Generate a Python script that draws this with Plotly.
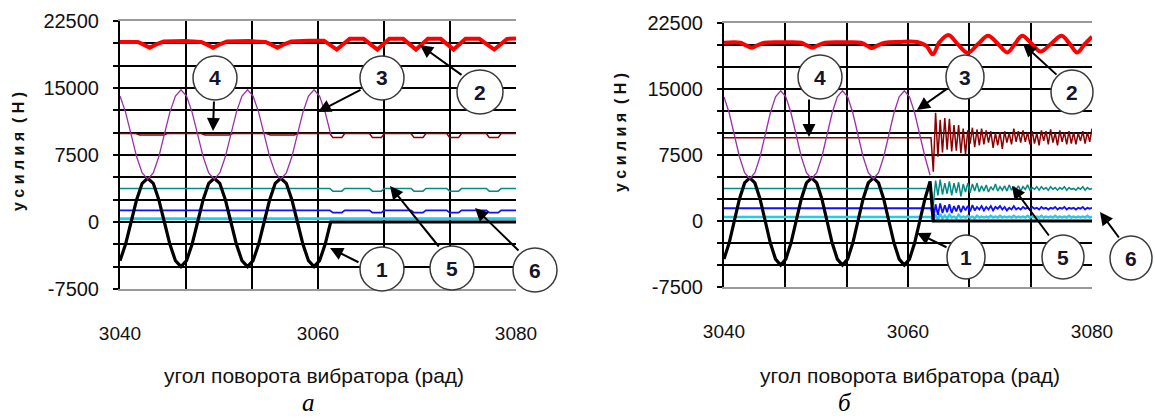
import plotly.graph_objects as go

W, H = 1155, 418

# ---------------- data ----------------
# sampled angle positions (rad) for the periodic part
osc_x = [3040.00, 3040.56, 3041.12, 3041.68, 3042.24, 3042.80, 3043.36, 3043.92, 3044.48, 3045.04,
         3045.60, 3046.16, 3046.72, 3047.28, 3047.84, 3048.40, 3048.96, 3049.52, 3050.08, 3050.64,
         3051.20, 3051.76, 3052.32, 3052.88, 3053.44, 3054.00, 3054.56, 3055.12, 3055.68, 3056.24,
         3056.80, 3057.36, 3057.92, 3058.48, 3059.04, 3059.60, 3060.16, 3060.72, 3061.28, 3061.84,
         3062.40]

# series 1 (black) - chart a
f1_a_x = osc_x[:39] + [3080.0]
f1_a = [-4330, -2500, 0, 2500, 4330, 4900, 4330, 2500, 0, -2500, -4330, -5000,
        -4330, -2500, 0, 2500, 4330, 4900, 4330, 2500, 0, -2500, -4330, -5000,
        -4330, -2500, 0, 2500, 4330, 4900, 4330, 2500, 0, -2500, -4330, -5000,
        -4330, -2500, 0, 0]
# series 1 (black) - chart b
f1_b_x = osc_x + [3062.75, 3080.0]
f1_b = [-4330, -2500, 0, 2500, 4330, 4900, 4330, 2500, 0, -2500, -4330, -5000,
        -4330, -2500, 0, 2500, 4330, 4900, 4330, 2500, 0, -2500, -4330, -5000,
        -4330, -2500, 0, 2500, 4330, 4900, 4330, 2500, 0, -2500, -4330, -5000,
        -4330, -2500, 0, 2500, 4500, 0, 0]

# series 3 (purple)
f3_a_x = osc_x[:39]
f3_a = [14100, 12300, 9800, 7300, 5500, 4800, 5500, 7300, 9800, 12300, 14100, 14800,
        14100, 12300, 9800, 7300, 5500, 4800, 5500, 7300, 9800, 12300, 14100, 14800,
        14100, 12300, 9800, 7300, 5500, 4800, 5500, 7300, 9800, 12300, 14100, 14800,
        14100, 12300, 9850]
f3_b_x = osc_x
f3_b = [14100, 12300, 9800, 7300, 5500, 4800, 5500, 7300, 9800, 12300, 14100, 14800,
        14100, 12300, 9800, 7300, 5500, 4800, 5500, 7300, 9800, 12300, 14100, 14800,
        14100, 12300, 9800, 7300, 5500, 4800, 5500, 7300, 9800, 12300, 14100, 14800,
        14100, 12300, 9800, 7300, 5200]

# series 2 (red)
f2_a_x = [3040.0, 3041.8, 3042.4, 3043.0, 3043.6, 3044.4, 3046.5, 3048.2, 3048.8, 3049.4,
          3050.0, 3050.8, 3053.0, 3054.7, 3055.3, 3055.9, 3056.5, 3057.3, 3059.0, 3060.6,
          3061.9, 3063.2, 3064.6, 3066.0, 3067.2, 3068.6, 3069.9, 3071.1, 3072.4, 3073.7,
          3074.9, 3076.3, 3077.8, 3079.1, 3080.0]
f2_a = [20150, 20150, 19850, 19500, 19850, 20200, 20250, 20150, 19850, 19500,
        19850, 20200, 20250, 20150, 19850, 19500, 19850, 20200, 20300, 20300,
        19300, 20500, 20500, 19300, 20500, 20500, 19300, 20500, 20500, 19300,
        20500, 20500, 19300, 20500, 20550]
f2_b_x = [3040.0, 3041.8, 3042.4, 3043.0, 3043.6, 3044.4, 3046.5, 3048.4, 3049.0, 3049.6,
          3050.2, 3051.0, 3053.0, 3054.9, 3055.5, 3056.1, 3056.7, 3057.5, 3059.0, 3061.0,
          3062.0, 3062.7, 3063.4, 3064.4, 3065.4, 3066.5, 3067.6, 3068.7, 3069.8, 3070.8,
          3071.6, 3072.4, 3073.4, 3074.4, 3075.6, 3076.7, 3077.6, 3078.4, 3079.2, 3080.0]
f2_b = [20250, 20250, 19950, 19700, 19950, 20250, 20300, 20250, 19950, 19700,
        19950, 20250, 20300, 20250, 19950, 19650, 19950, 20250, 20350, 20350,
        19900, 18950, 20300, 21150, 20100, 19100, 20100, 21050, 20100, 19150,
        20100, 21050, 20200, 19250, 20200, 21050, 20100, 19150, 20100, 20950]

# chart a: series 4, 5, 6 and the cyan line (scalloped after the transition)
sc_a_x = [3040.0, 3041.6, 3042.0, 3044.4, 3044.8, 3048.2, 3048.6, 3051.0, 3051.4, 3054.8,
          3055.2, 3057.6, 3058.0, 3061.2, 3061.5, 3062.4, 3062.7, 3065.2, 3065.5, 3066.4,
          3066.7, 3069.4, 3069.7, 3070.6, 3070.9, 3073.0, 3073.3, 3074.2, 3074.5, 3077.0,
          3077.3, 3078.2, 3078.5, 3080.0]
f4_a = [9900, 9900, 9750, 9750, 9900, 9900, 9750, 9750, 9900, 9900,
        9750, 9750, 9900, 9900, 9450, 9450, 9900, 9900, 9450, 9450,
        9900, 9900, 9450, 9450, 9900, 9900, 9450, 9450, 9900, 9900,
        9450, 9450, 9900, 9900]
f5_a = [3750, 3750, 3750, 3750, 3750, 3750, 3750, 3750, 3750, 3750,
        3750, 3750, 3750, 3750, 3450, 3450, 3750, 3750, 3450, 3450,
        3750, 3750, 3450, 3450, 3750, 3750, 3450, 3450, 3750, 3750,
        3450, 3450, 3750, 3750]
f6_a = [1300, 1300, 1300, 1300, 1300, 1300, 1300, 1300, 1300, 1300,
        1300, 1300, 1300, 1300, 1050, 1050, 1300, 1300, 1050, 1050,
        1300, 1300, 1050, 1050, 1300, 1300, 1050, 1050, 1300, 1300,
        1050, 1050, 1300, 1300]
cy_a = [350, 350, 350, 350, 350, 350, 350, 350, 350, 350,
        350, 350, 350, 350, 350, 350, 350, 350, 350, 350,
        350, 350, 350, 350, 350, 350, 350, 350, 350, 350,
        350, 350, 350, 350]

# chart b: steady part then noisy part
nz_b_x = [3040.0, 3062.5,
          3062.75, 3063.00, 3063.25, 3063.50, 3063.75, 3064.00,
          3064.25, 3064.50, 3064.75, 3065.00, 3065.25, 3065.50, 3065.75, 3066.00,
          3066.25, 3066.50, 3066.75, 3067.00, 3067.25, 3067.50, 3067.75, 3068.00,
          3068.25, 3068.50, 3068.75, 3069.00, 3069.25, 3069.50, 3069.75, 3070.00,
          3070.25, 3070.50, 3070.75, 3071.00, 3071.25, 3071.50, 3071.75, 3072.00,
          3072.25, 3072.50, 3072.75, 3073.00, 3073.25, 3073.50, 3073.75, 3074.00,
          3074.25, 3074.50, 3074.75, 3075.00, 3075.25, 3075.50, 3075.75, 3076.00,
          3076.25, 3076.50, 3076.75, 3077.00, 3077.25, 3077.50, 3077.75, 3078.00,
          3078.25, 3078.50, 3078.75, 3079.00, 3079.25, 3079.50, 3079.75, 3080.00]
f4_b = [9450, 9450,
        5600, 12300, 7300, 11500, 7800, 11700,
        8100, 11600, 7900, 10900, 8000, 10900, 7700, 10500,
        7600, 10300, 8800, 10600, 8400, 10400, 8600, 10500,
        8700, 10300, 8900, 10200, 8300, 10000, 8600, 10100,
        8200, 10200, 8900, 10000, 8700, 10500, 9000, 10200,
        8900, 10300, 9000, 10100, 8700, 10200, 8800, 10000,
        8600, 10300, 9100, 10200, 8700, 10400, 8900, 10000,
        8600, 10300, 9000, 10100, 8700, 10200, 8800, 10100,
        8700, 10000, 9100, 10200, 8800, 10100, 9000, 10500]
f5_b = [3700, 3700,
        1800, 4600, 2900, 4700, 3000, 4300,
        3100, 4500, 2900, 4300, 3200, 4400, 2800, 4200,
        3300, 4300, 3200, 4200, 3400, 4300, 3300, 4000,
        3400, 4100, 3300, 3900, 3500, 4200, 3400, 3900,
        3500, 4000, 3400, 4100, 3500, 3900, 3600, 4000,
        3400, 3900, 3600, 4100, 3500, 3800, 3600, 3900,
        3500, 3900, 3600, 3800, 3500, 3900, 3600, 3800,
        3500, 3800, 3600, 3900, 3500, 3800, 3600, 3700,
        3500, 3800, 3600, 3900, 3500, 3800, 3600, 3700]
f6_b = [1450, 1450,
        200, 1900, 700, 2000, 900, 1800,
        1000, 1900, 900, 1700, 1100, 1800, 1000, 1700,
        1200, 1700, 1100, 1800, 1200, 1600, 1300, 1700,
        1200, 1600, 1300, 1700, 1200, 1600, 1400, 1700,
        1300, 1600, 1200, 1500, 1300, 1700, 1300, 1500,
        1300, 1600, 1400, 1500, 1300, 1600, 1400, 1500,
        1300, 1600, 1400, 1500, 1300, 1500, 1400, 1600,
        1300, 1500, 1400, 1600, 1300, 1500, 1400, 1500,
        1300, 1500, 1400, 1600, 1300, 1500, 1400, 1500]
cy_b = [450, 450,
        100, 700, 200, 800, 300, 600,
        300, 700, 400, 500, 300, 700, 400, 500,
        400, 600, 400, 500, 300, 600, 400, 500,
        400, 500, 400, 600, 400, 500, 400, 600,
        400, 500, 400, 500, 400, 600, 400, 500,
        400, 500, 400, 600, 400, 500, 400, 500,
        400, 600, 400, 500, 400, 500, 400, 600,
        400, 500, 400, 500, 400, 600, 400, 500,
        400, 500, 400, 500, 400, 600, 400, 500]

x_tick_labels = ["3040", "3060", "3080"]
y_tick_labels = ["-7500", "0", "7500", "15000", "22500"]
y_title = "у с и л и я  ( Н )"
x_title = "угол поворота вибратора (рад)"
panel_labels = ["а", "б"]

# ---------------- styling ----------------
SANS = "Liberation Sans, Arial, sans-serif"
C_RED, C_PURPLE, C_DRED, C_TEAL, C_BLUE, C_CYAN, C_BLACK = (
    "#ff0000", "#9b30a8", "#8b0000", "#008b84", "#1010ff", "#22ccee", "#000000")

fig = go.Figure()

def add(xs, ys, color, width, xa, ya, shape="linear"):
    fig.add_trace(go.Scatter(x=xs, y=ys, mode="lines",
                             line=dict(color=color, width=width, shape=shape),
                             xaxis=xa, yaxis=ya, showlegend=False, hoverinfo="skip"))

# chart a
add(sc_a_x, cy_a, C_CYAN, 3, "x", "y")
add(sc_a_x, f6_a, C_BLUE, 1.8, "x", "y")
add(sc_a_x, f5_a, C_TEAL, 1.5, "x", "y")
add(f1_a_x, f1_a, C_BLACK, 3.2, "x", "y")
add(sc_a_x, f4_a, C_DRED, 1.5, "x", "y")
add(f3_a_x, f3_a, C_PURPLE, 1.3, "x", "y")
add(f2_a_x, f2_a, C_RED, 4, "x", "y")
# chart b
add(nz_b_x, cy_b, C_CYAN, 2.5, "x2", "y2")
add(nz_b_x, f6_b, C_BLUE, 1.8, "x2", "y2")
add(nz_b_x, f5_b, C_TEAL, 1.5, "x2", "y2")
add(f1_b_x, f1_b, C_BLACK, 3.2, "x2", "y2")
add(nz_b_x, f4_b, C_DRED, 1.5, "x2", "y2")
add(f3_b_x, f3_b, C_PURPLE, 1.3, "x2", "y2")
add(f2_b_x, f2_b, C_RED, 4, "x2", "y2", shape="spline")

x_grid = [3040 + i * 20 / 3 for i in range(7)]
x_text = [x_tick_labels[i // 3] if i % 3 == 0 else "" for i in range(7)]
y_grid = [-7500 + 2500 * i for i in range(13)]
y_text = [y_tick_labels[i // 3] if i % 3 == 0 else "" for i in range(13)]

def xaxis_cfg(dom, anchor):
    return dict(domain=dom, range=[3040, 3080], tickvals=x_grid, ticktext=x_text, anchor=anchor,
                automargin=False,
                showgrid=True, gridcolor="black", gridwidth=1.5, zeroline=False,
                showline=True, linecolor="#9a9a9a", linewidth=2, mirror=True,
                ticks="", ticklabelstandoff=26,
                tickfont=dict(family=SANS, size=19, color="#111"))

def yaxis_cfg(dom, anchor):
    return dict(domain=dom, range=[-7500, 22500], tickvals=y_grid, ticktext=y_text,
                automargin=False,
                showgrid=True, gridcolor="black", gridwidth=1.5,
                zeroline=True, zerolinecolor="black", zerolinewidth=1.5,
                showline=True, linecolor="black", linewidth=2,
                ticks="outside", ticklen=5, tickcolor="black", tickwidth=1.5,
                ticklabelstandoff=10, anchor=anchor,
                tickfont=dict(family=SANS, size=20, color="#111"))

def px(x): return x / W
def py(y): return 1 - y / H

fig.update_layout(
    template="none",
    width=W, height=H, margin=dict(l=0, r=0, t=0, b=0, pad=0),
    paper_bgcolor="white", plot_bgcolor="white",
    xaxis=xaxis_cfg([px(120), px(516)], "y"),
    yaxis=yaxis_cfg([py(289), py(21)], "x"),
    xaxis2=xaxis_cfg([px(724), px(1092)], "y2"),
    yaxis2=yaxis_cfg([py(287), py(23)], "x2"),
)

annotations = []
shapes = []

def note(cx, cy, text, font, **kw):
    annotations.append(dict(x=px(cx), y=py(cy), xref="paper", yref="paper", text=text,
                            xanchor="center", yanchor="middle", showarrow=False, font=font, **kw))

# axis titles & panel labels
for cx, cy in [(314, 375), (910, 375)]:
    note(cx, cy, x_title, dict(family=SANS, size=21, color="#111"))
for cx, cy in [(18, 152), (621, 133)]:
    note(cx, cy, "<b>" + y_title + "</b>", dict(family=SANS, size=16, color="#111"), textangle=-90)
for (cx, cy), lab in zip([(308, 402), (845, 402)], panel_labels):
    note(cx, cy, "<i>" + lab + "</i>",
         dict(family="Liberation Serif, Times New Roman, serif", size=25, color="black"))

# numbered callouts: label, circle centre, radius x, arrow tail, arrow head (pixels)
callouts = [
    ("4", (215, 78), 22, (214, 100), (213, 131)),
    ("3", (382, 78), 22, (362, 89), (318, 112)),
    ("2", (480, 92), 23, (463, 76), (420, 45)),
    ("1", (382, 269), 22, (360, 263), (330, 248)),
    ("5", (452, 268), 22, (440, 248), (390, 186)),
    ("6", (535, 270), 22, (520, 252), (475, 208)),
    ("4", (820, 77), 22, (809, 98), (809, 137)),
    ("3", (965, 77), 19, (948, 88), (917, 110)),
    ("2", (1072, 92), 21, (1058, 76), (1023, 44)),
    ("1", (966, 257), 19, (948, 248), (917, 233)),
    ("5", (1063, 257), 21, (1050, 237), (1012, 186)),
    ("6", (1131, 258), 21, (1120, 239), (1100, 212)),
]
for lab, (cx, cy), rx, (tx, ty), (hx, hy) in callouts:
    ry = 22
    shapes.append(dict(type="circle", xref="paper", yref="paper",
                       x0=px(cx - rx), x1=px(cx + rx), y0=py(cy + ry), y1=py(cy - ry),
                       line=dict(color="#3a3a3a", width=1.5), fillcolor="white", layer="above"))
    annotations.append(dict(x=px(hx), y=py(hy), xref="paper", yref="paper", text="",
                            ax=tx - hx, ay=ty - hy, axref="pixel", ayref="pixel",
                            showarrow=True, arrowhead=2, arrowsize=1.3, arrowwidth=2,
                            arrowcolor="black"))
    note(cx, cy, "<b>" + lab + "</b>", dict(family=SANS, size=21, color="#15152a"))

fig.update_layout(annotations=annotations, shapes=shapes)
fig.write_html("out.html")
